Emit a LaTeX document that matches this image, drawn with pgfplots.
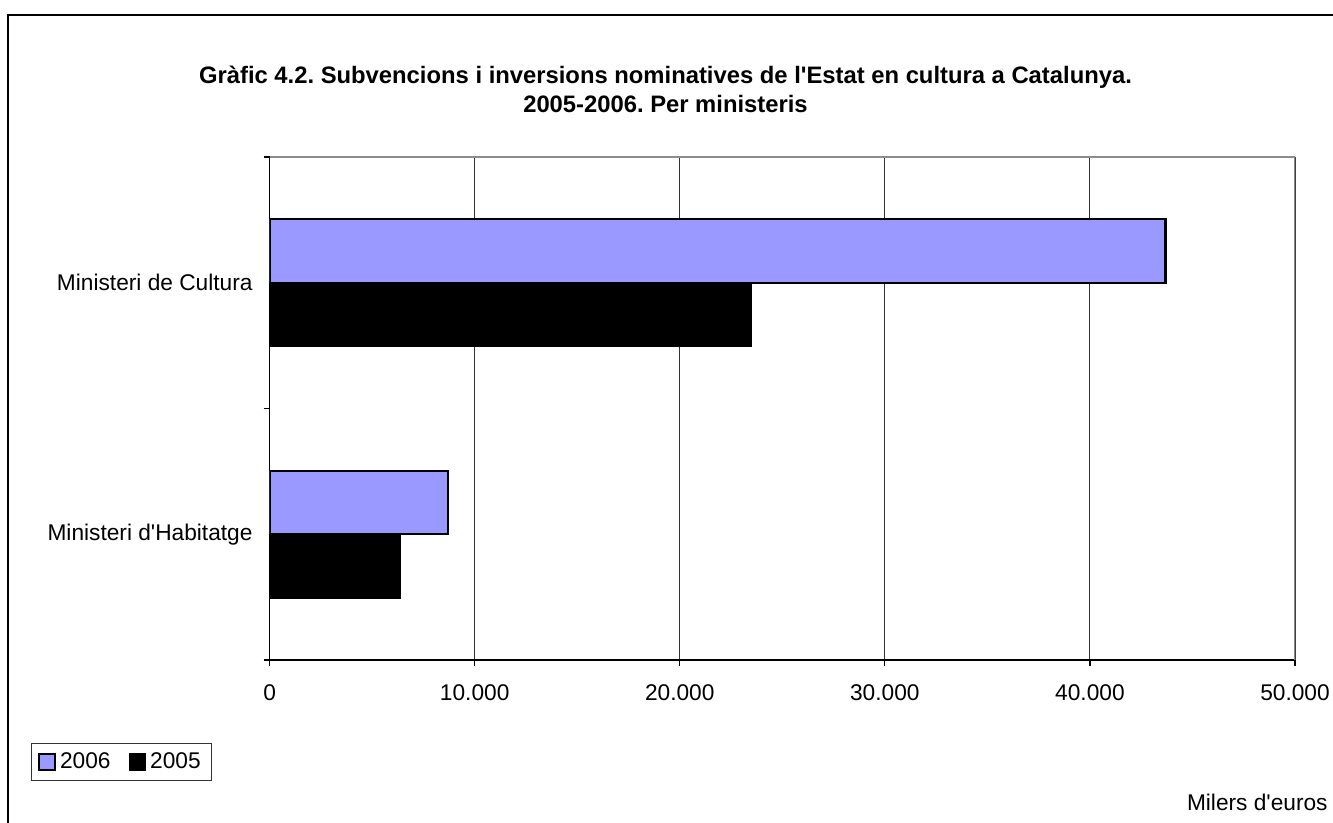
\documentclass[border=0pt]{standalone}
\usepackage{pgfplots}
\pgfplotsset{compat=1.18}
\usepackage{fontspec}
\setmainfont{Liberation Sans}
\definecolor{lila}{HTML}{9999FF}

\begin{document}
\frenchspacing
\begin{tikzpicture}[font=\fontsize{11.35}{13.6}\selectfont]
\useasboundingbox (0,0) rectangle (666.5pt,411.5pt);
\draw[line width=0.6pt] (4pt,0pt) -- (4pt,404pt) -- (666.5pt,404pt);
\node[align=center, font=\fontsize{11.9}{14.5}\selectfont\bfseries] at (332.75pt,366.75pt)
  {Gràfic 4.2. Subvencions i inversions nominatives de l\textquotesingle Estat en cultura a Catalunya.\\2005-2006. Per ministeris};
\node[anchor=east, inner sep=0pt] at (664pt,10.5pt) {Milers d\textquotesingle euros};

\begin{axis}[
    at={(134.8pt,81.5pt)}, anchor=south west,
    scale only axis,
    width=512.7pt, height=251.5pt,
    xbar, bar width=0.2525,
    xmin=0, xmax=50000,
    ymin=-0.5, ymax=1.5,
    axis x line*=bottom, axis y line*=left,
    axis line style={line width=0.6pt, black},
    tick align=outside,
    major tick length=3pt,
    tick style={black, line width=0.6pt},
    xtick={0,10000,20000,30000,40000,50000},
    /pgf/number format/.cd, 1000 sep={.}, assume math mode=true,
    /pgfplots/.cd,
    scaled x ticks=false,
    xticklabel style={yshift=-6pt},
    xmajorgrids, grid style={black!80, line width=0.5pt},
    ytick={-0.5,0.5,1.5}, yticklabels={},
    extra y ticks={0,1},
    extra y tick labels={Ministeri d\textquotesingle Habitatge, Ministeri de Cultura},
    extra y tick style={major tick length=0pt, yticklabel style={xshift=-5pt}},
    legend style={at={(-0.2327,-0.165)}, anchor=north west,
        draw=black!80, line width=0.5pt, legend columns=2,
        inner xsep=3.5pt, inner ysep=2.5pt,
        /tikz/every even column/.append style={column sep=7pt}},
    legend image code/.code={\draw[#1, line width=0.8pt] (0pt,-4pt) rectangle (8pt,4pt);},
]
\addplot[draw=black, fill=lila, line width=1.1pt, bar shift=0.12625]
  coordinates {(8690,0) (43690,1)};
\addplot[draw=black, fill=black, line width=1.1pt, bar shift=-0.12625]
  coordinates {(6350,0) (23470,1)};
\legend{2006,2005}
\draw[black!45, line width=0.6pt] (rel axis cs:0,1) -- (rel axis cs:1,1) -- (rel axis cs:1,0);
\end{axis}
\end{tikzpicture}
\end{document}
